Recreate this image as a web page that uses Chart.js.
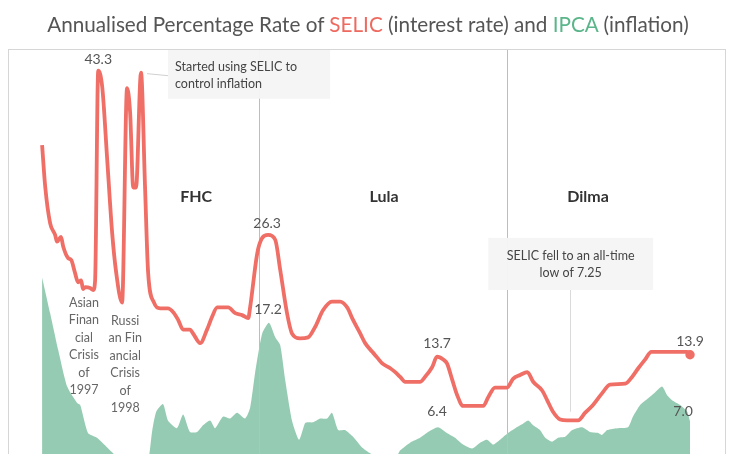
<!DOCTYPE html>
<html>
<head>
<meta charset="utf-8">
<script src="https://cdn.jsdelivr.net/npm/chart.js@4.4.1/dist/chart.umd.min.js"></script>
<style>
  html, body { margin: 0; padding: 0; background: #fff; overflow: hidden; }
  #wrap { position: relative; width: 736px; height: 500px; }
  #title {
    position: absolute; top: 12px; left: 0; width: 736px;
    text-align: center; font-family: Lato, "Noto Sans", sans-serif;
    font-size: 20.7px; font-weight: 400; color: #555; z-index: 2;
  }
  #title .selic { color: #ee6a60; }
  #title .ipca { color: #5bb58a; }
</style>
</head>
<body>
<div id="wrap">
  <div id="title">Annualised Percentage Rate of <span class="selic">SELIC</span> (interest rate) and <span class="ipca">IPCA</span> (inflation)</div>
  <canvas id="chart" width="736" height="500"></canvas>
</div>
<script>
// SELIC, taxa anualizada (%)
const selicYear = [
  1996.00, 1996.10, 1996.26, 1996.42, 1996.48, 1996.61, 1996.68, 1996.84, 1996.94, 1997.06,
  1997.16, 1997.26, 1997.32, 1997.39, 1997.55, 1997.65, 1997.71, 1997.81, 1997.94, 1998.10,
  1998.26, 1998.39, 1998.58, 1998.74, 1998.84, 1998.94, 1999.03, 1999.19, 1999.32, 1999.42,
  1999.61, 1999.81, 2000.06, 2000.23, 2000.39, 2000.55, 2000.77, 2000.87, 2001.10, 2001.32,
  2001.48, 2001.65, 2002.00, 2002.23, 2002.45, 2002.65, 2002.71, 2002.94, 2003.10, 2003.29,
  2003.52, 2003.68, 2003.90, 2004.06, 2004.32, 2004.58, 2004.81, 2005.06, 2005.35, 2005.61,
  2005.84, 2006.03, 2006.26, 2006.42, 2006.65, 2006.81, 2006.97, 2007.23, 2007.39, 2007.55,
  2007.71, 2008.19, 2008.35, 2008.58, 2008.74, 2008.94, 2009.06, 2009.23, 2009.39, 2009.58,
  2010.23, 2010.39, 2010.61, 2011.00, 2011.19, 2011.42, 2011.65, 2011.84, 2012.13, 2012.29,
  2012.48, 2012.71, 2012.94, 2013.29, 2013.52, 2013.77, 2014.06, 2014.32, 2014.81, 2015.03,
  2015.23, 2015.45, 2015.65, 2016.81, 2016.90
];
const selicRate = [
  35.6, 31.3, 27.5, 26.3, 25.6, 26.1, 25.1, 23.9, 23.7, 22.4,
  21.4, 21.6, 20.7, 20.9, 20.8, 20.6, 21.6, 43.3, 41.6, 34.1,
  26.5, 22.4, 19.3, 41.5, 38.9, 31.2, 31.2, 43.1, 31.3, 22.4,
  19.3, 18.7, 18.7, 18.3, 17.5, 16.5, 16.5, 16.1, 15.1, 16.5,
  17.8, 18.8, 18.8, 18.2, 18.0, 17.7, 18.8, 24.4, 26.0, 26.3,
  25.8, 22.7, 18.2, 16.1, 15.6, 15.7, 16.8, 18.5, 19.4, 19.4,
  18.8, 17.5, 16.1, 15.1, 14.2, 13.6, 13.0, 12.5, 12.1, 11.6,
  11.1, 11.1, 11.6, 12.6, 13.7, 13.4, 13.0, 11.3, 9.7, 8.6,
  8.6, 9.5, 10.5, 10.5, 11.4, 11.8, 12.1, 11.1, 10.2, 9.2,
  8.0, 7.2, 7.1, 7.1, 7.9, 8.7, 9.9, 10.8, 10.9, 11.6,
  12.5, 13.4, 14.2, 14.2, 13.9
];

// IPCA, inflação em 12 meses (%)
const ipcaYear = [
  1996.00, 1996.26, 1996.52, 1996.81, 1997.13, 1997.23, 1997.48, 1997.77, 1998.10, 1998.29,
  1998.52, 1998.84, 1999.16, 1999.39, 1999.45, 1999.55, 1999.68, 1999.90, 2000.06, 2000.35,
  2000.55, 2000.77, 2001.00, 2001.19, 2001.42, 2001.58, 2001.84, 2002.06, 2002.29, 2002.55,
  2002.71, 2002.87, 2003.10, 2003.32, 2003.52, 2003.68, 2003.84, 2004.06, 2004.29, 2004.48,
  2004.58, 2004.74, 2004.97, 2005.19, 2005.35, 2005.55, 2005.77, 2006.03, 2006.32, 2006.58,
  2006.90, 2007.23, 2007.48, 2007.55, 2007.87, 2008.19, 2008.45, 2008.77, 2009.06, 2009.32,
  2009.58, 2009.87, 2010.13, 2010.35, 2010.55, 2010.77, 2011.03, 2011.26, 2011.48, 2011.68,
  2011.84, 2012.06, 2012.23, 2012.45, 2012.65, 2012.87, 2013.10, 2013.42, 2013.68, 2013.94,
  2014.06, 2014.23, 2014.55, 2014.90, 2015.06, 2015.29, 2015.55, 2015.77, 2016.00, 2016.16,
  2016.32, 2016.58, 2016.81, 2016.90
];
const ipcaRate = [
  21.9, 18.2, 14.4, 10.6, 8.9, 8.7, 5.8, 5.3, 4.3, 3.7,
  3.0, 2.0, 2.5, 3.3, 3.4, 6.0, 8.0, 8.8, 7.1, 6.3,
  7.7, 5.9, 5.9, 6.6, 7.1, 6.3, 7.5, 7.3, 7.9, 7.3,
  8.4, 12.0, 16.1, 17.2, 15.7, 14.9, 11.3, 7.1, 5.1, 6.8,
  6.9, 6.9, 7.3, 7.3, 7.9, 6.1, 6.1, 5.4, 4.3, 3.7,
  3.1, 3.0, 3.6, 4.0, 4.8, 5.3, 5.9, 6.4, 5.8, 5.3,
  4.6, 4.2, 4.8, 5.1, 4.6, 5.1, 5.8, 6.3, 6.7, 7.1,
  6.6, 6.1, 5.3, 4.9, 5.3, 5.4, 6.1, 6.4, 5.9, 5.8,
  5.6, 6.1, 6.3, 6.4, 7.5, 8.7, 9.4, 10.0, 10.6, 9.7,
  9.2, 8.7, 8.0, 7.0
];

// Mandatos presidenciais
const termStarts = [2003.0, 2011.0];
const termNames = ['FHC', 'Lula', 'Dilma'];
const termLabelYear = [2000.97, 2007.03, 2013.61];

// Rótulos de valor: série, ano do ponto, deslocamento
const valueLabels = [
  { ds: 0, year: 1997.81, dx: 0, dy: -11 },
  { ds: 0, year: 2003.29, dx: -1, dy: -11 },
  { ds: 1, year: 2003.32, dx: -1, dy: -13 },
  { ds: 0, year: 2008.74, dx: 0, dy: -13 },
  { ds: 1, year: 2008.77, dx: -1, dy: -16 },
  { ds: 0, year: 2016.90, dx: 0, dy: -13 },
  { ds: 1, year: 2016.90, dx: -7, dy: -10 }
];

const crisisNotes = [
  { year: 1997.35, value: 19.25, lines: ['Asian', 'Finan', 'cial', 'Crisis', 'of', '1997'] },
  { year: 1998.68, value: 17.4, lines: ['Russi', 'an Fin', 'ancial', 'Crisis', 'of', '1998'] }
];

const SELIC_COLOR = '#ef6e66';
const IPCA_FILL = '#96cbb3';
const FONT = 'Lato, "Noto Sans", sans-serif';

function lookup(ds, year) {
  const years = ds === 0 ? selicYear : ipcaYear;
  const vals = ds === 0 ? selicRate : ipcaRate;
  let best = 0;
  years.forEach((y, i) => { if (Math.abs(y - year) < Math.abs(years[best] - year)) best = i; });
  return { x: years[best], y: vals[best] };
}

// Linhas de referência entre as áreas e a linha da SELIC
const refLinesPlugin = {
  id: 'refLines',
  afterDatasetDraw(chart, args) {
    if (args.index !== 1) return;
    const { ctx, chartArea, scales } = chart;
    ctx.save();
    ctx.strokeStyle = '#bdbdbd';
    ctx.lineWidth = 1;
    termStarts.forEach(t => {
      const x = Math.round(scales.x.getPixelForValue(t)) + 0.5;
      ctx.beginPath();
      ctx.moveTo(x, chartArea.top);
      ctx.lineTo(x, chartArea.bottom);
      ctx.stroke();
    });
    ctx.restore();
  }
};

const notesPlugin = {
  id: 'notes',
  afterDraw(chart) {
    const { ctx, chartArea, scales } = chart;
    const px = v => scales.x.getPixelForValue(v);
    const py = v => scales.y.getPixelForValue(v);
    ctx.save();

    // moldura
    ctx.strokeStyle = '#d6d6d6';
    ctx.lineWidth = 1;
    ctx.strokeRect(chartArea.left + 0.5, chartArea.top + 0.5,
      chartArea.right - chartArea.left - 1, chartArea.bottom - chartArea.top);

    // caixa 1: Started using SELIC
    const peak = lookup(0, 1999.19);
    const b1 = { x1: px(2000.06), x2: px(2005.29), y1: chartArea.top + 1, y2: py(40.4) };
    ctx.strokeStyle = '#d0d0d0';
    ctx.beginPath();
    ctx.moveTo(px(peak.x) + 6, py(peak.y) + 1);
    ctx.lineTo(b1.x1, py(peak.y) + 3);
    ctx.stroke();
    ctx.fillStyle = 'rgba(245,245,245,0.97)';
    ctx.fillRect(b1.x1, b1.y1, b1.x2 - b1.x1, b1.y2 - b1.y1);
    ctx.fillStyle = '#444';
    ctx.font = '12.5px ' + FONT;
    ctx.textAlign = 'left';
    ctx.textBaseline = 'middle';
    ctx.fillText('Started using SELIC to', b1.x1 + 7, b1.y1 + 17);
    ctx.fillText('control inflation', b1.x1 + 7, b1.y1 + 34);

    // caixa 2: mínima histórica
    const b2 = { x1: px(2010.39), x2: px(2015.71), y1: py(26.0), y2: py(20.6) };
    const lowX = px(2013.03);
    ctx.strokeStyle = '#dadada';
    ctx.beginPath();
    ctx.moveTo(Math.round(lowX) + 0.5, b2.y2);
    ctx.lineTo(Math.round(lowX) + 0.5, py(8.0));
    ctx.stroke();
    ctx.fillStyle = 'rgba(245,245,245,0.97)';
    ctx.fillRect(b2.x1, b2.y1, b2.x2 - b2.x1, b2.y2 - b2.y1);
    ctx.fillStyle = '#444';
    ctx.textAlign = 'center';
    const c2 = (b2.x1 + b2.x2) / 2;
    ctx.fillText('SELIC fell to an all-time', c2, b2.y1 + 18);
    ctx.fillText('low of 7.25', c2, b2.y1 + 35);

    // mandatos
    ctx.fillStyle = '#333';
    ctx.font = 'bold 16px ' + FONT;
    termNames.forEach((n, i) => ctx.fillText(n, px(termLabelYear[i]), py(30.2)));

    // crises
    ctx.fillStyle = '#666';
    ctx.font = '12.5px ' + FONT;
    crisisNotes.forEach(c => {
      c.lines.forEach((l, i) => ctx.fillText(l, px(c.year), py(c.value) + i * 17.4));
    });

    // rótulos de valor
    ctx.fillStyle = '#555';
    ctx.font = '14px ' + FONT;
    valueLabels.forEach(l => {
      const p = lookup(l.ds, l.year);
      ctx.fillText(p.y.toFixed(1), px(p.x) + l.dx, py(p.y) + l.dy);
    });

    ctx.restore();
  }
};

const canvas = document.getElementById('chart');
const chart = new Chart(canvas.getContext('2d'), {
  type: 'line',
  data: {
    datasets: [
      {
        label: 'SELIC',
        data: selicYear.map((x, i) => ({ x: x, y: selicRate[i] })),
        borderColor: SELIC_COLOR,
        backgroundColor: SELIC_COLOR,
        borderWidth: 3.8,
        cubicInterpolationMode: 'monotone',
        pointRadius: ctx => ctx.dataIndex === selicYear.length - 1 ? 2.8 : 0,
        fill: false
      },
      {
        label: 'IPCA',
        data: ipcaYear.map((x, i) => ({ x: x, y: ipcaRate[i] })),
        borderColor: IPCA_FILL,
        backgroundColor: IPCA_FILL,
        borderWidth: 0,
        pointRadius: 0,
        tension: 0.2,
        fill: 'origin'
      }
    ]
  },
  options: {
    responsive: false,
    animation: false,
    layout: { padding: { left: 8, right: 10, top: 49, bottom: 11 } },
    plugins: {
      legend: { display: false },
      tooltip: { enabled: false }
    },
    scales: {
      x: { type: 'linear', display: false, min: 1994.9, max: 2018.06 },
      y: { display: false, min: 0, max: 45.55 }
    }
  },
  plugins: [refLinesPlugin, notesPlugin]
});
</script>
</body>
</html>
